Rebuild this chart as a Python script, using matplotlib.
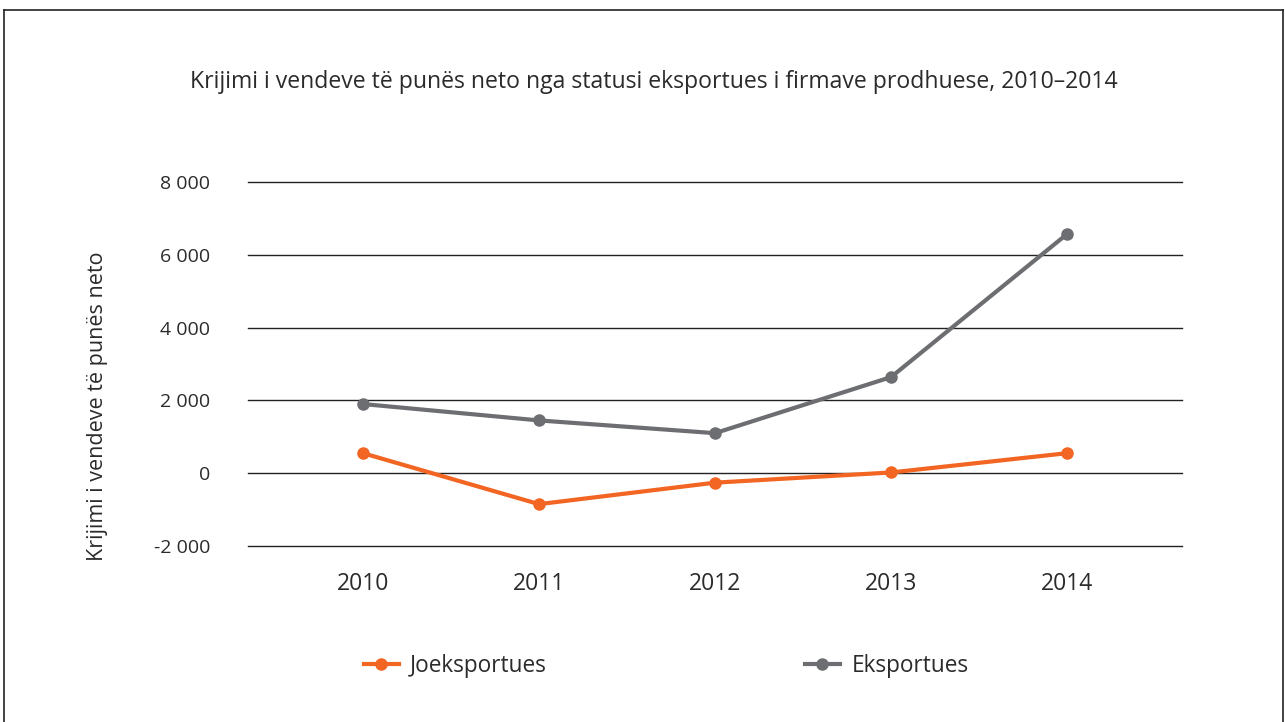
import numpy as np
import matplotlib
matplotlib.use("Agg")
import matplotlib.pyplot as plt
from matplotlib.lines import Line2D

# --- data ---
years = ["2010", "2011", "2012", "2013", "2014"]
joeksportues = [550, -850, -260, 20, 550]
eksportues = [1900, 1450, 1100, 2640, 6570]
y_ticks = [-2000, 0, 2000, 4000, 6000, 8000]

orange = "#F26522"
grey = "#6D6E71"
text_col = "#2b2b2b"

plt.rcParams["font.family"] = ["Open Sans", "DejaVu Sans"]

fig = plt.figure(figsize=(12.85, 7.22), dpi=100)
ax = fig.add_axes([248 / 1285, 1 - 546 / 722, (1182 - 248) / 1285, (546 - 182) / 722])

x = np.arange(len(years))
ax.plot(x, joeksportues, color=orange, lw=3, marker="o", ms=8, label="Joeksportues", zorder=3)
ax.plot(x, eksportues, color=grey, lw=3, marker="o", ms=8, label="Eksportues", zorder=3)

ax.set_xlim(-0.653, len(years) - 1 + 0.653)
ax.set_ylim(-2000, 8000)
ax.set_yticks(y_ticks)
ax.set_yticklabels([f"{v:,}".replace(",", " ") for v in y_ticks])
ax.set_xticks(x)
ax.set_xticklabels(years)
ax.tick_params(axis="both", length=0, colors=text_col)
ax.tick_params(axis="y", pad=27, labelsize=14)
ax.tick_params(axis="x", pad=19, labelsize=16.5)
ax.grid(axis="y", color="#222222", lw=1)
for gl in ax.get_ygridlines():
    gl.set_clip_on(False)
ax.set_axisbelow(True)
for s in ax.spines.values():
    s.set_visible(False)

ax.set_ylabel("Krijimi i vendeve të punës neto", fontsize=15.5, color=text_col)
ax.yaxis.set_label_coords(-0.15, 0.385)

fig.text(654 / 1285, 1 - 82 / 722, "Krijimi i vendeve të punës neto nga statusi eksportues i firmave prodhuese, 2010–2014",
         ha="center", va="center", fontsize=16.6, color=text_col)

fig.legend(loc="center", bbox_to_anchor=(666 / 1285, 1 - 666 / 722), ncol=2, frameon=False,
           fontsize=16.3, handlelength=1.55, handletextpad=0.5, columnspacing=11.4,
           labelcolor=text_col)

# frame around the figure
for xs, ys in [([4 / 1285, 4 / 1285], [0, 1 - 10 / 722]),
               ([4 / 1285, 1283 / 1285], [1 - 10 / 722, 1 - 10 / 722]),
               ([1283 / 1285, 1283 / 1285], [1 - 10 / 722, 0])]:
    fig.add_artist(Line2D(xs, ys, transform=fig.transFigure, color="#222222", lw=1.2))

fig.savefig("out.png", dpi=100)
